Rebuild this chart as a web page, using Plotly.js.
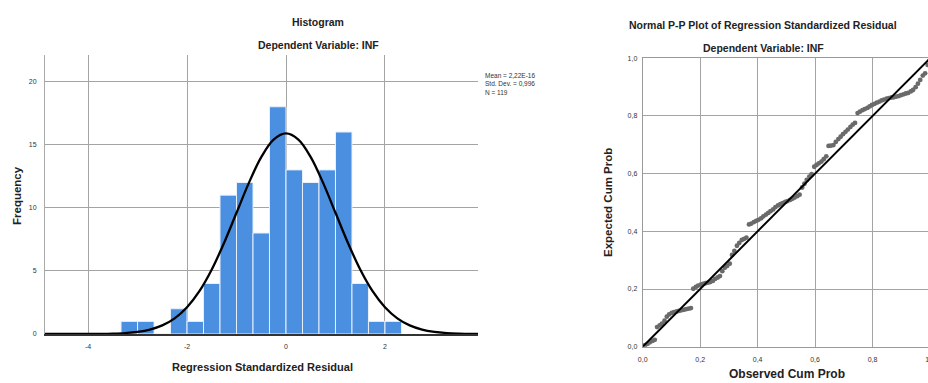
<!DOCTYPE html>
<html>
<head>
<meta charset="utf-8">
<script src="https://cdn.plot.ly/plotly-3.0.1.min.js"></script>
<style>
html,body{margin:0;padding:0;overflow:hidden;background:#fff;width:928px;height:383px;}
#chart{width:945px;height:395px;}
</style>
</head>
<body>
<div id="chart"></div>
<script>
// ---------- Histogram data ----------
const binCenters = [-3.167,-2.833,-2.5,-2.167,-1.833,-1.5,-1.167,-0.833,-0.5,-0.167,0.167,0.5,0.833,1.167,1.5,1.833,2.167];
const binCounts  = [1,1,0,2,1,4,11,12,8,18,13,12,13,16,4,1,1];
const binWidth = 1/3;

// normal curve (mean 0, sd 0.996, N 119)
const curveX = [-5,-4.75,-4.5,-4.25,-4,-3.75,-3.5,-3.25,-3,-2.75,-2.5,-2.25,-2,-1.75,-1.5,-1.25,-1,-0.75,-0.5,-0.25,0,0.25,0.5,0.75,1,1.25,1.5,1.75,2,2.25,2.5,2.75,3,3.25,3.5,3.75,4];
const curveY = [0,0.001,0.001,0.002,0.005,0.013,0.033,0.077,0.17,0.35,0.68,1.24,2.12,3.39,5.11,7.23,9.60,11.97,14.01,15.40,15.89,15.40,14.01,11.97,9.60,7.23,5.11,3.39,2.12,1.24,0.68,0.35,0.17,0.077,0.033,0.013,0.005];

const histXTicks = [-4,-2,0,2];
const histXTickText = ["-4","-2","0","2"];
const histYTicks = [0,5,10,15,20];

const statsText = ["Mean = 2,22E-16","Std. Dev. = 0,996","N = 119"];

// ---------- P-P plot data ----------
const ppObserved = [0.008,0.017,0.025,0.034,0.042,0.050,0.059,0.067,0.076,0.084,0.092,0.101,0.109,0.118,0.126,0.134,0.143,0.151,0.160,0.168,
0.176,0.185,0.193,0.202,0.210,0.218,0.227,0.235,0.244,0.252,0.261,0.269,0.277,0.286,0.294,0.303,0.311,0.319,0.328,0.336,
0.345,0.353,0.361,0.370,0.378,0.387,0.395,0.403,0.412,0.420,0.429,0.437,0.445,0.454,0.462,0.471,0.479,0.487,0.496,0.504,
0.513,0.521,0.529,0.538,0.546,0.555,0.563,0.571,0.580,0.588,0.597,0.605,0.613,0.622,0.630,0.639,0.647,0.655,0.664,0.672,
0.681,0.689,0.697,0.706,0.714,0.723,0.731,0.739,0.748,0.756,0.765,0.773,0.782,0.790,0.798,0.807,0.815,0.824,0.832,0.840,
0.849,0.857,0.866,0.874,0.882,0.891,0.899,0.908,0.916,0.924,0.933,0.941,0.950,0.958,0.966,0.975,0.983,0.992,1.000];
const ppExpected = [0.005,0.010,0.015,0.020,0.024,0.068,0.074,0.080,0.090,0.104,0.112,0.117,0.120,0.122,0.124,0.126,0.128,0.130,0.132,0.134,
0.201,0.207,0.212,0.215,0.218,0.220,0.222,0.224,0.228,0.235,0.240,0.245,0.262,0.274,0.280,0.288,0.318,0.332,0.350,0.360,
0.370,0.374,0.378,0.424,0.427,0.432,0.436,0.440,0.445,0.452,0.458,0.464,0.470,0.476,0.484,0.490,0.494,0.498,0.502,0.505,
0.509,0.513,0.517,0.522,0.527,0.552,0.565,0.578,0.590,0.598,0.624,0.630,0.636,0.642,0.650,0.660,0.696,0.697,0.699,0.710,
0.720,0.728,0.737,0.745,0.753,0.762,0.770,0.776,0.810,0.815,0.820,0.824,0.828,0.833,0.838,0.842,0.846,0.850,0.854,0.857,
0.860,0.862,0.864,0.865,0.867,0.869,0.872,0.875,0.878,0.880,0.885,0.890,0.900,0.912,0.925,0.940,0.948,0.977,0.995];
const refLineX = [0,1];
const refLineY = [0,1];
const ppTicks = [0,0.2,0.4,0.6,0.8,1.0];

// ---------- layout helpers (pixel -> paper) ----------
const W = 945, H = 395;
const px = x => x / W;
const py = y => (H - y) / H;

const FONT = "Liberation Sans, Arial, sans-serif";
const tickFont = {family: FONT, size: 7, color: "#333"};
const gridC = "#a4a4a4";

const traces = [
  {
    type: "bar", x: binCenters, y: binCounts, width: binWidth,
    marker: {color: "#4a8fe0", line: {color: "#e8f0fb", width: 1}},
    xaxis: "x", yaxis: "y", hoverinfo: "skip"
  },
  {
    type: "scatter", mode: "lines", x: curveX, y: curveY,
    line: {color: "#000", width: 2.3, shape: "spline", smoothing: 1},
    xaxis: "x", yaxis: "y", hoverinfo: "skip"
  },
  {
    type: "scatter", mode: "markers", x: ppObserved, y: ppExpected,
    marker: {color: "#6a6a6a", size: 4.8},
    xaxis: "x2", yaxis: "y2", hoverinfo: "skip", cliponaxis: true
  },
  {
    type: "scatter", mode: "lines", x: refLineX, y: refLineY,
    line: {color: "#000", width: 2},
    xaxis: "x2", yaxis: "y2", hoverinfo: "skip"
  }
];

function title(text, x, y, size, angle) {
  return {text: text, x: px(x), y: py(y), xref: "paper", yref: "paper",
    xanchor: "center", yanchor: "middle", showarrow: false, textangle: angle || 0,
    font: {family: FONT, size: size, color: "#222", weight: "bold"}};
}

const layout = {
  width: W, height: H,
  margin: {l: 0, r: 0, t: 0, b: 0, pad: 0},
  paper_bgcolor: "#fff", plot_bgcolor: "#fff",
  showlegend: false,
  separators: ",.",
  bargap: 0,
  xaxis: {
    domain: [px(45), px(478)], range: [-4.87, 3.88],
    tickvals: histXTicks, ticktext: histXTickText, tickfont: tickFont,
    ticks: "", ticklabelstandoff: 5,
    showgrid: true, gridcolor: gridC, gridwidth: 1, zeroline: false,
    showline: true, linecolor: "#333", linewidth: 1.5, anchor: "y"
  },
  yaxis: {
    domain: [py(334), py(55)], range: [0, 22.1],
    tickvals: histYTicks, tickfont: tickFont, ticks: "", ticklabelstandoff: 6,
    showgrid: true, gridcolor: gridC, gridwidth: 1, zeroline: false,
    showline: true, linecolor: "#aaa", linewidth: 1, anchor: "x"
  },
  xaxis2: {
    domain: [px(642.7), px(930)], range: [0, 1],
    tickvals: ppTicks, tickformat: ".1f", tickfont: tickFont,
    ticks: "", ticklabelstandoff: 6,
    showgrid: true, gridcolor: gridC, gridwidth: 1, zeroline: false,
    showline: true, mirror: true, linecolor: "#999", linewidth: 1, anchor: "y2"
  },
  yaxis2: {
    domain: [py(346.7), py(58.3)], range: [0, 1],
    tickvals: ppTicks, tickformat: ".1f", tickfont: tickFont,
    ticks: "", ticklabelstandoff: 3,
    showgrid: true, gridcolor: gridC, gridwidth: 1, zeroline: false,
    showline: true, mirror: true, linecolor: "#999", linewidth: 1, anchor: "x2"
  },
  annotations: [
    title("Histogram", 318, 22, 10.5),
    title("Dependent Variable: INF", 318, 45, 10.5),
    title("Regression Standardized Residual", 262, 367, 11),
    title("Frequency", 17, 196, 11.5, -90),
    title("Normal P-P Plot of Regression Standardized Residual", 763, 25, 10.5),
    title("Dependent Variable: INF", 763, 48, 10.5),
    title("Expected Cum Prob", 608, 203, 11.5, -90),
    title("Observed Cum Prob", 786.7, 374, 12),
    {text: statsText.join("<br>"), x: px(483), y: py(70), xref: "paper", yref: "paper",
     xanchor: "left", yanchor: "top", align: "left", showarrow: false,
     font: {family: FONT, size: 6.5, color: "#333"}}
  ]
};

Plotly.newPlot("chart", traces, layout, {staticPlot: true, displayModeBar: false});
</script>
</body>
</html>
